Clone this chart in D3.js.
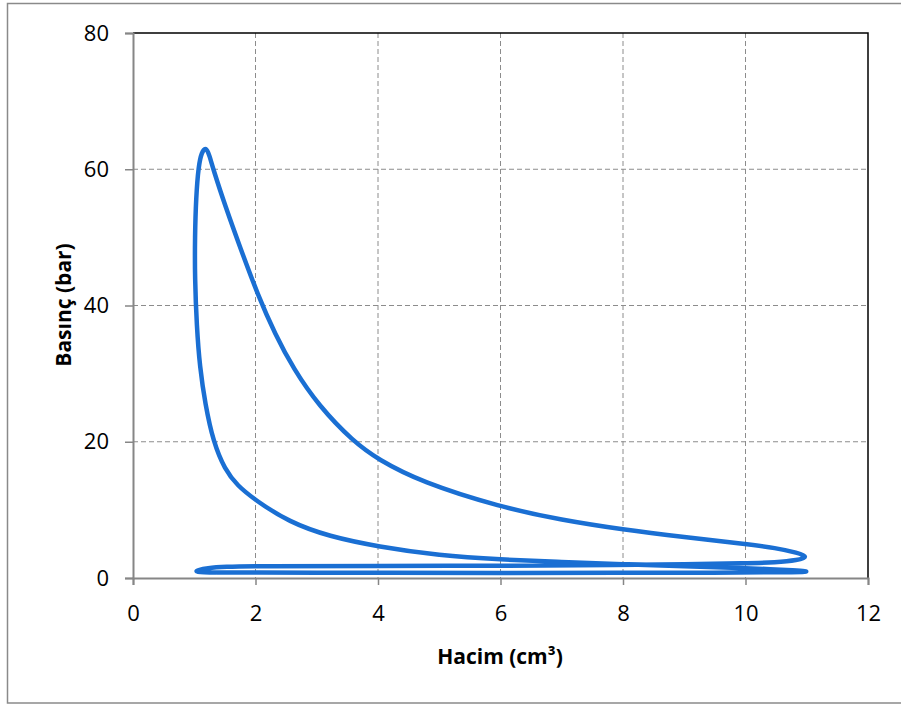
<!DOCTYPE html>
<html>
<head>
<meta charset="utf-8">
<script src="https://cdnjs.cloudflare.com/ajax/libs/d3/7.8.5/d3.min.js"></script>
<style>
  body { margin: 0; background: #fff; }
  svg { display: block; }
</style>
</head>
<body>
<svg></svg>
<script>
let w = 901;
let h = 704;

// cycle: intake -> compression -> peak -> expansion -> exhaust
const volume = [
  1.0, 1.3, 2, 3, 4, 6, 8, 9.5, 10.8, 11.0, 11.0, 10.8,
  10.4, 10, 9, 8, 7, 6, 5, 4, 3.2, 2.55, 2, 1.7, 1.5, 1.31, 1.18, 1.09, 1.04, 1.01, 1.01, 1.03, 1.07, 1.12, 1.19,
  1.25, 1.31, 1.51, 1.75, 2.04, 2.32, 2.62, 3.03, 3.6, 4, 4.7, 6, 7, 8, 9, 10, 10.5, 10.85, 11.03,
  10.85, 10.5, 10, 9, 8, 6, 4, 2, 1.5, 1.2, 1.06
];
const pressure = [
  0.9, 0.8, 0.8, 0.78, 0.76, 0.75, 0.75, 0.78, 0.85, 0.92, 1.0, 1.12,
  1.3, 1.45, 1.7, 2.0, 2.35, 2.7, 3.3, 4.6, 6.1, 8.2, 11.4, 13.6, 15.9, 20, 25.5, 31, 37, 44, 50, 56, 60.5, 62.5, 63.3,
  62.0, 60.0, 54.5, 48.5, 41.5, 35.8, 30.7, 25.3, 20.0, 17.4, 14.1, 10.4, 8.5, 7.1, 6.0, 5.0, 4.4, 3.7, 3.1,
  2.6, 2.3, 2.15, 2.0, 1.9, 1.8, 1.75, 1.75, 1.65, 1.45, 1.15
];

const xTicks = [0, 2, 4, 6, 8, 10, 12];
const yTicks = [0, 20, 40, 60, 80];

const pLeft = 133, pRight = 868, pTop = 33, pBottom = 578;
const axisColor = '#868686';
const font = '"Open Sans", Lato, sans-serif';

const svg = d3.select('svg')
  .attr('width', w)
  .attr('height', h)

// outer chart frame
svg.append('rect')
  .attr('x', 7.5).attr('y', 3.5)
  .attr('width', 900).attr('height', 699.5)
  .attr('fill', 'white')
  .attr('stroke', '#8a8a8a')
  .attr('stroke-width', 1.5)

// Scales
const xScale = d3.scaleLinear().domain([0, 12]).range([pLeft, pRight])
const yScale = d3.scaleLinear().domain([0, 80]).range([pBottom, pTop])

// Grid
svg.append('g')
  .selectAll('line')
  .data(xTicks.filter(d => d > 0 && d < 12))
  .enter()
  .append('line')
  .attr('x1', d => xScale(d)).attr('x2', d => xScale(d))
  .attr('y1', pTop).attr('y2', pBottom)
  .attr('stroke', '#8c8c8c')
  .attr('stroke-dasharray', '5,3')

svg.append('g')
  .selectAll('line')
  .data(yTicks.filter(d => d > 0 && d < 80))
  .enter()
  .append('line')
  .attr('x1', pLeft).attr('x2', pRight)
  .attr('y1', d => yScale(d)).attr('y2', d => yScale(d))
  .attr('stroke', '#8c8c8c')
  .attr('stroke-dasharray', '5,3')

// plot border top/right in black
svg.append('path')
  .attr('d', `M${pLeft},${pTop}H${pRight}V${pBottom}`)
  .attr('fill', 'none')
  .attr('stroke', 'black')
  .attr('stroke-width', 1.5)

// Axes
const xAxis = d3.axisBottom(xScale).tickValues(xTicks).tickSize(7).tickPadding(20)
const yAxis = d3.axisLeft(yScale).tickValues(yTicks).tickSize(8).tickPadding(16)

const gx = svg.append('g')
  .attr('transform', 'translate(0,' + pBottom + ')')
  .call(xAxis)
const gy = svg.append('g')
  .attr('transform', 'translate(' + pLeft + ',0)')
  .call(yAxis)

for (const g of [gx, gy]) {
  g.select('.domain').attr('stroke', axisColor).attr('stroke-width', 2)
  g.selectAll('.tick line').attr('stroke', axisColor).attr('stroke-width', 1.5)
  g.selectAll('.tick text')
    .attr('fill', 'black')
    .attr('font-size', '22px')
    .attr('font-family', font)
}

// the loop (smoothed through the traced points)
const line = d3.line()
  .x((d, i) => xScale(volume[i]))
  .y((d, i) => yScale(pressure[i]))
  .curve(d3.curveBasisClosed)

svg.append('path')
  .datum(volume)
  .attr('d', line)
  .attr('fill', 'none')
  .attr('stroke', '#1a6fd3')
  .attr('stroke-width', 4.5)
  .attr('stroke-linejoin', 'round')

// Axis titles
svg.append('text')
  .attr('x', 500)
  .attr('y', 664)
  .attr('text-anchor', 'middle')
  .attr('font-family', font)
  .attr('font-weight', 'bold')
  .attr('font-size', '21px')
  .text('Hacim (cm³)')

svg.append('text')
  .attr('transform', 'translate(71,305) rotate(-90)')
  .attr('text-anchor', 'middle')
  .attr('font-family', font)
  .attr('font-weight', 'bold')
  .attr('font-size', '21px')
  .text('Basınç (bar)')
</script>
</body>
</html>
